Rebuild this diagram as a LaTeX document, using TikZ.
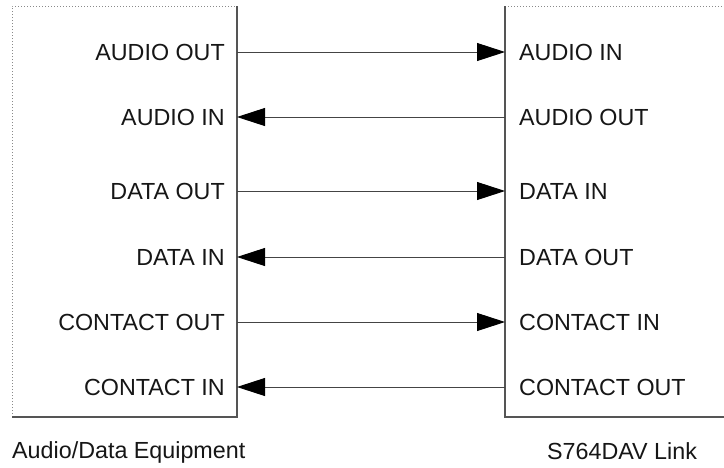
\documentclass[tikz,border=0pt]{standalone}
\usepackage{fontspec}
\setmainfont{Liberation Sans}
\usetikzlibrary{arrows.meta}
\definecolor{edgegray}{HTML}{555555}
\definecolor{dotgray}{HTML}{8A8A8A}
\definecolor{linegray}{HTML}{444444}
\definecolor{txt}{HTML}{161616}
\begin{document}
\begin{tikzpicture}[x=1pt,y=-1pt,
  solidedge/.style={draw=edgegray,line width=1.2pt},
  dotedge/.style={draw=dotgray,line width=1pt,dotted},
  sig/.style={draw=linegray,line width=0.9pt,-{Triangle[length=28pt,width=18pt,color=black]}},
  lbl/.style={font=\fontsize{23.3}{27}\selectfont,text=txt,inner sep=0pt},
  leftlbl/.style={lbl,anchor=base east},
  rightlbl/.style={lbl,anchor=base west},
  caption/.style={lbl,anchor=base west}]
\useasboundingbox[fill=white] (0,0) rectangle (724,467);
% left box
\coordinate (LTL) at (12,6);
\coordinate (LTR) at (237,6);
\coordinate (LBL) at (12,417);
\coordinate (LBR) at (237,417);
\draw[dotedge] (LBL) -- (LTL) -- (LTR);
\draw[solidedge] (LTR) -- (LBR) -- (LBL);
% right box
\coordinate (RTL) at (505,6);
\coordinate (RTR) at (724,6);
\coordinate (RBL) at (505,417);
\coordinate (RBR) at (724,417);
\draw[dotedge] (RTL) -- (RTR);
\draw[solidedge] (RTL) -- (RBL) -- (RBR);
% ports
\foreach \i/\y in {1/52,2/117,3/191,4/257,5/322,6/387}{
  \coordinate (L\i) at (237,\y);
  \coordinate (R\i) at (505,\y);
}
% labels
\node[leftlbl] (la1) at (225,60) {AUDIO OUT};
\node[leftlbl] (la2) at (225,125) {AUDIO IN};
\node[leftlbl] (la3) at (225,199) {DATA OUT};
\node[leftlbl] (la4) at (225,265) {DATA IN};
\node[leftlbl] (la5) at (225,330) {CONTACT OUT};
\node[leftlbl] (la6) at (225,395) {CONTACT IN};
\node[rightlbl] (ra1) at (519,60) {AUDIO IN};
\node[rightlbl] (ra2) at (519,125) {AUDIO OUT};
\node[rightlbl] (ra3) at (519,199) {DATA IN};
\node[rightlbl] (ra4) at (519,265) {DATA OUT};
\node[rightlbl] (ra5) at (519,330) {CONTACT IN};
\node[rightlbl] (ra6) at (519,395) {CONTACT OUT};
% connectors
\draw[sig] (L1) -- (R1);
\draw[sig] (R2) -- (L2);
\draw[sig] (L3) -- (R3);
\draw[sig] (R4) -- (L4);
\draw[sig] (L5) -- (R5);
\draw[sig] (R6) -- (L6);
% captions
\node[caption] (cap1) at (12,458) {Audio/Data Equipment};
\node[caption] (cap2) at (547,459) {S764DAV Link};
\end{tikzpicture}
\end{document}
